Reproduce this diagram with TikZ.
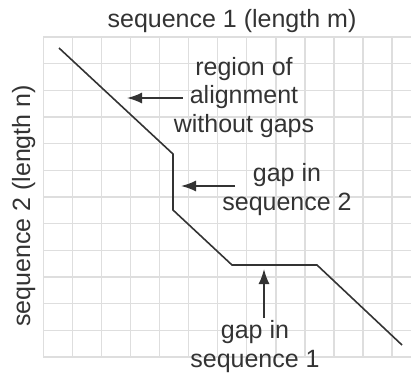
\documentclass[tikz,border=0pt]{standalone}
\usepackage{fontspec}
\setmainfont{Liberation Sans}
\usepackage{xcolor}
\usetikzlibrary{arrows.meta, positioning}

\definecolor{ink}{HTML}{333333}
\definecolor{gridgray}{HTML}{DEDEDE}

\begin{document}
\begin{tikzpicture}[x=1pt, y=-1pt,
    gridline/.style={draw=gridgray, line width=1.5pt},
    trace/.style={draw=ink, line width=1.6pt, line join=miter},
    pointer/.style={draw=ink, line width=1.6pt, -{Latex[length=15pt,width=11pt]}},
    lbl/.style={text=ink, align=center, inner sep=0pt,
        font=\fontsize{25}{28.5}\selectfont}]
    \useasboundingbox (0,0) rectangle (411,378);

    % grid
    \foreach \i in {0,...,12}
        \draw[gridline] ({43.3+29.06*\i},37) -- ({43.3+29.06*\i},357);
    \foreach \j in {0,...,12}
        \draw[gridline] (43.3,{37+26.67*\j}) -- (411,{37+26.67*\j});

    % alignment trace
    \coordinate (p0) at (59,48);
    \coordinate (p1) at (173,154);
    \coordinate (p2) at (173,210);
    \coordinate (p3) at (232,265);
    \coordinate (p4) at (317,265);
    \coordinate (p5) at (402,345);
    \draw[trace] (p0) -- (p1) -- (p2) -- (p3) -- (p4) -- (p5);

    % labels (base = last line)
    \node[lbl, anchor=base] (seqone) at (232,27) {sequence 1 (length m)};
    \node[lbl, anchor=base, rotate=90] (seqtwo) at (30,206) {sequence 2 (length n)};
    \node[lbl, anchor=base] (nogaps) at (244,132) {region of\\alignment\\without gaps};
    \node[lbl, anchor=base] (gaptwo) at (287,210) {gap in\\sequence 2};
    \node[lbl, anchor=base] (gapone) at (255,367) {gap in\\sequence 1};

    % arrow tips on the trace
    \coordinate (t1) at (127,98);
    \coordinate (t2) at (181,186);
    \coordinate (t3) at (264,269);
    \draw[pointer] (nogaps.west |- t1) ++(9,0) -- (t1);
    \draw[pointer] (gaptwo.west |- t2) ++(13,0) -- (t2);
    \draw[pointer] (gapone.north -| t3) ++(0,-2) -- (t3);
\end{tikzpicture}
\end{document}
